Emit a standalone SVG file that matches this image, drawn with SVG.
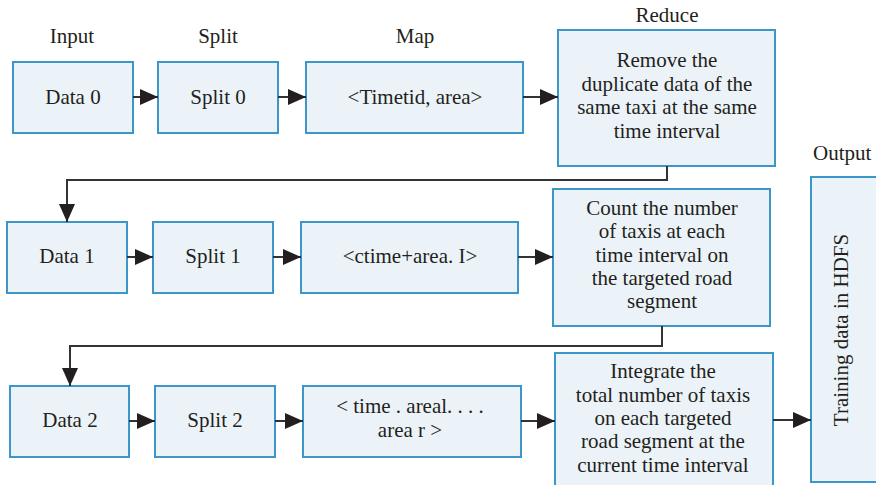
<svg xmlns="http://www.w3.org/2000/svg" width="876" height="485" viewBox="0 0 876 485">
<style>
.box{fill:#ecf3f8;stroke:#3b97c9;stroke-width:2}
.t{font-family:"Liberation Serif","Times New Roman",serif;font-size:21px;fill:#231f20;text-anchor:middle}
.c{fill:none;stroke:#333;stroke-width:2}
</style>
<defs>
<marker id="ah" markerUnits="userSpaceOnUse" markerWidth="18" markerHeight="18" viewBox="0 0 18 18" refX="18" refY="9" orient="auto">
<path d="M0,1 L18,9 L0,17 Z" fill="#231f20"/>
</marker>
</defs>
<rect width="876" height="485" fill="#fff"/>
<g id="labels">
<text class="t" x="72" y="43">Input</text>
<text class="t" x="218" y="43">Split</text>
<text class="t" x="415" y="43">Map</text>
<text class="t" x="667" y="22">Reduce</text>
<text class="t" x="813" y="160" style="text-anchor:start">Output</text>
</g>
<g id="data0"><rect class="box" x="13" y="62" width="120" height="71"/><text class="t" x="73" y="104">Data 0</text></g>
<g id="split0"><rect class="box" x="158" y="62" width="120" height="71"/><text class="t" x="218" y="104">Split 0</text></g>
<g id="map0"><rect class="box" x="306" y="62" width="217" height="71"/><text class="t" x="415" y="104">&lt;Timetid, area&gt;</text></g>
<g id="reduce0"><rect class="box" x="558" y="30" width="217" height="136"/>
<text class="t" x="667" y="67">Remove the</text>
<text class="t" x="667" y="91">duplicate data of the</text>
<text class="t" x="667" y="114">same taxi at the same</text>
<text class="t" x="667" y="138">time interval</text></g>
<g id="data1"><rect class="box" x="7" y="222" width="120" height="71"/><text class="t" x="67" y="263">Data 1</text></g>
<g id="split1"><rect class="box" x="153" y="222" width="120" height="71"/><text class="t" x="213" y="263">Split 1</text></g>
<g id="map1"><rect class="box" x="301" y="222" width="217" height="71"/><text class="t" x="410" y="263">&lt;ctime+area. I&gt;</text></g>
<g id="reduce1"><rect class="box" x="553" y="189" width="217" height="137"/>
<text class="t" x="662" y="215">Count the number</text>
<text class="t" x="662" y="238">of taxis at each</text>
<text class="t" x="662" y="262">time interval on</text>
<text class="t" x="662" y="285">the targeted road</text>
<text class="t" x="662" y="308">segment</text></g>
<g id="data2"><rect class="box" x="10" y="386" width="119" height="71"/><text class="t" x="70" y="427">Data 2</text></g>
<g id="split2"><rect class="box" x="155" y="386" width="120" height="71"/><text class="t" x="215" y="427">Split 2</text></g>
<g id="map2"><rect class="box" x="303" y="386" width="218" height="71"/>
<text class="t" x="410" y="413">&lt; time . areal. . . .</text>
<text class="t" x="410" y="437">area r &gt;</text></g>
<g id="reduce2"><rect class="box" x="555" y="353" width="218" height="140"/>
<text class="t" x="663" y="378">Integrate the</text>
<text class="t" x="663" y="402">total number of taxis</text>
<text class="t" x="663" y="425">on each targeted</text>
<text class="t" x="663" y="448">road segment at the</text>
<text class="t" x="663" y="472">current time interval</text></g>
<g id="output"><rect class="box" x="811" y="177" width="70" height="305"/>
<text class="t" transform="translate(848,330) rotate(-90)" x="0" y="0">Training data in HDFS</text></g>
<g id="connectors">
<line class="c" x1="133" y1="97" x2="158" y2="97" marker-end="url(#ah)"/>
<line class="c" x1="278" y1="97" x2="306" y2="97" marker-end="url(#ah)"/>
<line class="c" x1="523" y1="97" x2="558" y2="97" marker-end="url(#ah)"/>
<polyline class="c" points="667,166 667,180 67,180 67,222" marker-end="url(#ah)"/>
<line class="c" x1="127" y1="257" x2="153" y2="257" marker-end="url(#ah)"/>
<line class="c" x1="273" y1="257" x2="301" y2="257" marker-end="url(#ah)"/>
<line class="c" x1="518" y1="257" x2="553" y2="257" marker-end="url(#ah)"/>
<polyline class="c" points="662,326 662,346 70,346 70,386" marker-end="url(#ah)"/>
<line class="c" x1="129" y1="421" x2="155" y2="421" marker-end="url(#ah)"/>
<line class="c" x1="275" y1="421" x2="303" y2="421" marker-end="url(#ah)"/>
<line class="c" x1="521" y1="421" x2="555" y2="421" marker-end="url(#ah)"/>
<line class="c" x1="773" y1="420" x2="811" y2="420" marker-end="url(#ah)"/>
</g>
</svg>
